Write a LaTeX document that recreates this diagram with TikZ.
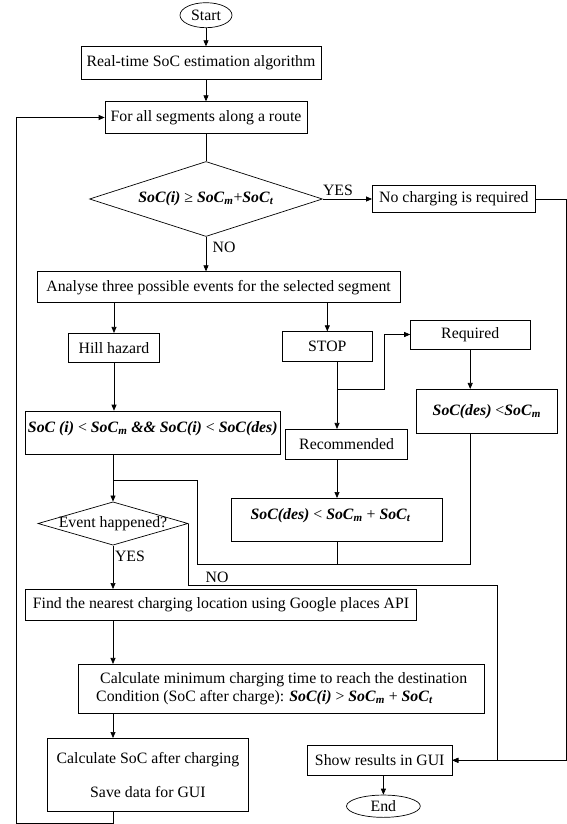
\documentclass[tikz,border=0pt]{standalone}
\usepackage{fontspec}
\setmainfont{Liberation Serif}
\usetikzlibrary{shapes.geometric,arrows.meta,calc}
\newcommand\bix[1]{\textbf{\textit{#1}}}
\newcommand\sbx[1]{\textsubscript{\bix{#1}}}
\begin{document}
\begin{tikzpicture}[x=1pt,y=-1pt,
  every node/.style={font=\fontsize{15.8}{18}\selectfont},
  box/.style={draw, line width=0.7pt, inner sep=0pt, align=center},
  term/.style={draw, ellipse, line width=0.7pt, inner sep=0pt},
  dia/.style={draw, diamond, line width=0.7pt, inner sep=0pt},
  ln/.style={line width=0.7pt},
  arr/.style={line width=0.7pt, -{Triangle[length=6pt,width=5pt]}},
  lbl/.style={inner sep=0pt}]
\useasboundingbox (0,0) rectangle (567,824);

% nodes
\node[term, minimum width=52pt, minimum height=25pt] (start) at (206,15.2) {Start};
\node[box, minimum width=240pt, minimum height=32.6pt] (rt) at (201,63) {Real-time SoC estimation algorithm};
\node[box, minimum width=202pt, minimum height=31.6pt] (forall) at (206,117.5) {For all segments along a route};
\node[dia, minimum width=233pt, minimum height=75pt] (dec) at (206,199) {};
\node[lbl] (dect) at (dec.center) {\bix{SoC(i)} ≥ \bix{SoC}\sbx{m}+\bix{SoC}\sbx{t}};
\node[box, minimum width=163pt, minimum height=27.4pt] (nochg) at (453.9,199) {No charging is required};
\node[box, minimum width=363.5pt, minimum height=31pt] (anl) at (218.6,287.2) {Analyse three possible events for the selected segment};
\node[box, minimum width=90.4pt, minimum height=29.4pt] (hill) at (114,348) {Hill hazard};
\node[box, minimum width=90.5pt, minimum height=30pt] (stop) at (327.3,346.7) {STOP};
\node[box, minimum width=119.3pt, minimum height=29.3pt] (req) at (470.2,334.5) {Required};
\node[box, minimum width=140.4pt, minimum height=44pt] (desm) at (486.8,411.3) {\bix{SoC(des)} <\bix{SoC}\sbx{m}};
\node[box, minimum width=121.9pt, minimum height=30pt] (rec) at (346.6,444.3) {Recommended};
\node[box, minimum width=255pt, minimum height=43.3pt, text depth=11pt] (soci) at (152.8,432.7) {\bix{SoC (i)} < \bix{SoC}\sbx{m} \bix{\&\& SoC(i)} < \bix{SoC(des)}};
\node[box, minimum width=210.5pt, minimum height=42.7pt, text depth=12pt] (desmt) at (336.7,519.7) {\bix{SoC(des)} < \bix{SoC}\sbx{m} + \bix{SoC}\sbx{t}\hspace{12pt}};
\node[dia, minimum width=150pt, minimum height=43.3pt] (ev) at (113,523.5) {};
\node[lbl] (evt) at (ev.center) {Event happened?};
\node[box, minimum width=391.3pt, minimum height=30.7pt] (find) at (221,604.7) {Find the nearest charging location using Google places API};
\node[box, minimum width=405.8pt, minimum height=49pt, align=left] (calc) at (281.7,688.8) {\hspace{4pt}Calculate minimum charging time to reach the destination\\Condition (SoC after charge): \bix{SoC(i)} > \bix{SoC}\sbx{m} + \bix{SoC}\sbx{t}};
\node[box, minimum width=201.8pt, minimum height=72.7pt] (csoc) at (147.9,774.7) {Calculate SoC after charging\\[16pt]Save data for GUI};
\node[box, minimum width=144.7pt, minimum height=29.3pt] (show) at (379.7,760.3) {Show results in GUI};
\node[term, minimum width=73.8pt, minimum height=22.3pt] (end) at (383.4,806.2) {End};

% labels
\node[lbl] (yes1) at (338,190) {YES};
\node[lbl] (no1) at (224,247.3) {NO};
\node[lbl] (yes2) at (130,556.7) {YES};
\node[lbl] (no2) at (217,577.7) {NO};

% helper coordinates
\coordinate (sx) at (337,389.3);
\coordinate (bend) at (384.4,389.3);
\coordinate (j1) at (113,480);
\coordinate (j2) at (197.1,564.3);
\coordinate (j3) at (497.3,585.7);
\coordinate (r1) at (566,199);
\coordinate (lp) at (16,823);

% connectors
\draw[arr] (start.south) -- (start.south |- rt.north);
\draw[arr] (forall.north |- rt.south) -- (forall.north);
\draw[ln] (forall.south) -- (dec.north);
\draw[arr] (dec.east) -- (nochg.west);
\draw[arr] (dec.south) -- (dec.south |- anl.north);
\draw[arr] (hill.north |- anl.south) -- (hill.north);
\draw[arr] (stop.north |- anl.south) -- (stop.north);
\draw[arr] (sx |- stop.south) -- (sx |- rec.north);
\draw[arr] (sx) -- (bend) |- (req.west);
\draw[arr] (req.south) -- (req.south |- desm.north);
\draw[arr] (hill.south) -- (hill.south |- soci.north);
\draw[arr] (ev.north |- soci.south) -- (ev.north);
\draw[ln] (j1) -| (j2) -| (req.south |- desm.south);
\draw[arr] (sx |- rec.south) -- (sx |- desmt.north);
\draw[ln] (sx |- desmt.south) -- (sx |- j2);
\draw[arr] (ev.south) -- (ev.south |- find.north);
\draw[arr] (ev.east) |- (j3) -- (j3 |- show.east) -- (show.east);
\draw[arr] (nochg.east) -- (r1) -- (r1 |- show.east) -- (show.east);
\draw[arr] (ev.south |- find.south) -- (ev.south |- calc.north);
\draw[arr] (ev.south |- calc.south) -- (ev.south |- csoc.north);
\draw[arr] (ev.south |- csoc.south) |- (lp) |- (forall.west);
\draw[arr] (end.north |- show.south) -- (end.north);
\end{tikzpicture}
\end{document}
